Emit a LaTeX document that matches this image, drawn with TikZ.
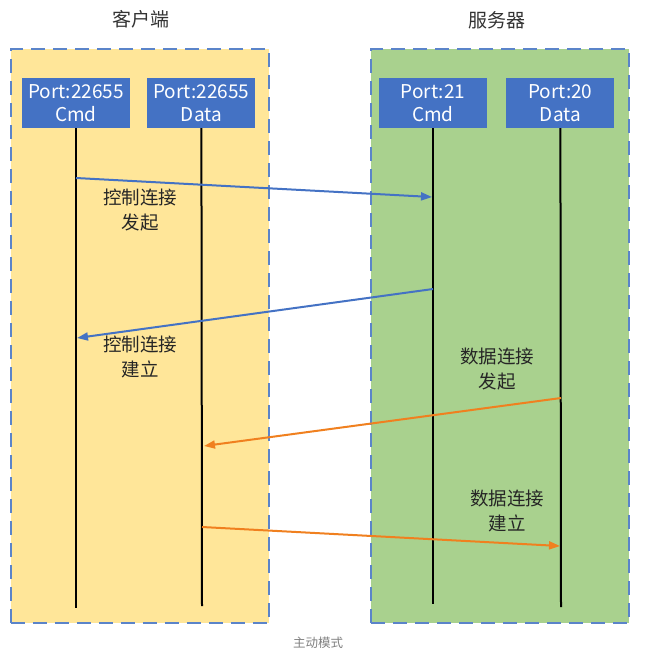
\documentclass[tikz,border=0pt]{standalone}
\usepackage{fontspec}
\setmainfont{Noto Sans CJK SC}
\usetikzlibrary{arrows.meta,positioning}
\definecolor{clientfill}{HTML}{FFE699}
\definecolor{serverfill}{HTML}{A9D18E}
\definecolor{portblue}{HTML}{4472C4}
\definecolor{dashblue}{HTML}{5B84C9}
\definecolor{dataorange}{HTML}{F0801F}
\begin{document}
\begin{tikzpicture}[x=1pt,y=-1pt,
	panel/.style={draw=dashblue, line width=2.4pt, dash pattern=on 14pt off 8pt, minimum width=258pt, minimum height=574pt, anchor=north west},
	port/.style={fill=portblue, text=white, minimum width=108pt, minimum height=50pt, align=center, font=\fontsize{19}{23}\selectfont, inner sep=0pt},
	life/.style={line width=2pt, black},
	ctrl/.style={line width=2pt, portblue, -{Triangle[length=11pt,width=8pt]}},
	data/.style={line width=2pt, dataorange, -{Triangle[length=11pt,width=8pt]}},
	note/.style={align=center, font=\fontsize{18.5}{25}\selectfont, text=black!85}]
	\useasboundingbox (0,0) rectangle (653,656);
	% panels
	\node (client) [panel, fill=clientfill] at (9.5,48) {};
	\node (server) [panel, fill=serverfill] at (370,48) {};
	\node (ctitle) [font=\fontsize{19}{22}\selectfont, text=black!80] at (141,19) {客户端};
	\node (stitle) [font=\fontsize{19}{22}\selectfont, text=black!80] at (497,20) {服务器};
	% ports
	\node (ccmd) [port] at (76,103) {Port:22655\\Cmd};
	\node (cdata) [port, right=17pt of ccmd] {Port:22655\\Data};
	\node (scmd) [port] at (433,103) {Port:21\\Cmd};
	\node (sdata) [port, right=19pt of scmd] {Port:20\\Data};
	% lifelines
	\coordinate (ccmdend) at (76,608);
	\coordinate (cdataend) at (202,606);
	\coordinate (scmdend) at (433,604);
	\coordinate (sdataend) at (561,607);
	\draw[life] (ccmd.south) -- (ccmdend);
	\draw[life] (cdata.south) -- (cdataend);
	\draw[life] (scmd.south) -- (scmdend);
	\draw[life] (sdata.south) -- (sdataend);
	% messages
	\coordinate (m1a) at (76,178);
	\coordinate (m1b) at (432,197);
	\coordinate (m2a) at (433,289);
	\coordinate (m2b) at (77,338);
	\coordinate (m3a) at (561,398);
	\coordinate (m3b) at (204,446);
	\coordinate (m4a) at (202,527);
	\coordinate (m4b) at (560,546);
	\draw[ctrl] (m1a) -- (m1b);
	\draw[ctrl] (m2a) -- (m2b);
	\draw[data] (m3a) -- (m3b);
	\draw[data] (m4a) -- (m4b);
	\node (n1) [note] at (140,210) {控制连接\\发起};
	\node (n2) [note] at (140,357) {控制连接\\建立};
	\node (n3) [note] at (497,369) {数据连接\\发起};
	\node (n4) [note] at (507,511) {数据连接\\建立};
	\node (caption) [font=\fontsize{12.5}{14}\selectfont, text=black!50] at (318,643) {主动模式};
\end{tikzpicture}
\end{document}
